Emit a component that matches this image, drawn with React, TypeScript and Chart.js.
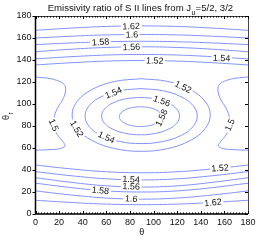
import { useEffect, useRef } from "react";
import { Chart, registerables } from "chart.js";

Chart.register(...registerables);

type P = [number, number];

// tick labels
const xTicks = [0, 20, 40, 60, 80, 100, 120, 140, 160, 180];
const yTicks = [0, 20, 40, 60, 80, 100, 120, 140, 160, 180];

const titleMain = "Emissivity ratio of S II lines from J";
const titleSub = "u";
const titleTail = "=5/2, 3/2";
const xTitle = "\u03b8";
const yTitle = "\u03b8";
const yTitleSub = "r";

// contour lines, [theta, theta_r]
const top162: P[] = [[0, 167], [30, 169], [60, 170.5], [90, 171], [120, 170.5], [150, 169], [180, 167]];
const top160: P[] = [[0, 160], [30, 161.6], [60, 162.8], [90, 163.2], [120, 162.8], [150, 161.6], [180, 160]];
const top158: P[] = [[0, 154], [30, 155.5], [60, 156.6], [90, 157], [120, 156.6], [150, 155.5], [180, 154]];
const top156: P[] = [[0, 147.5], [30, 149.8], [60, 151.4], [90, 152], [120, 151.4], [150, 149.8], [180, 147.5]];
const top154: P[] = [[0, 141], [30, 143], [60, 144.5], [90, 145], [120, 144.5], [150, 143], [180, 141]];
const top152: P[] = [[0, 135.5], [30, 137.5], [60, 139], [90, 139.5], [120, 139], [150, 137.5], [180, 135.5]];

const bot152: P[] = [[0, 44.5], [30, 41], [60, 38.4], [90, 37.5], [120, 38.4], [150, 41], [180, 44.5]];
const bot154: P[] = [[0, 38.5], [30, 34.8], [60, 32], [90, 31], [120, 32], [150, 34.8], [180, 38.5]];
const bot156: P[] = [[0, 33], [30, 28.8], [60, 25.6], [90, 24.5], [120, 25.6], [150, 28.8], [180, 33]];
const bot158: P[] = [[0, 28], [30, 24], [60, 21], [90, 20], [120, 21], [150, 24], [180, 28]];
const bot160: P[] = [[0, 21], [30, 17.3], [60, 14.5], [90, 13.5], [120, 14.5], [150, 17.3], [180, 21]];
const bot162: P[] = [[0, 12.5], [30, 10.5], [60, 9], [90, 8.5], [120, 9], [150, 10.5], [180, 12.5]];

const left150: P[] = [[0, 124.5], [10, 123.5], [18, 121.5], [24, 118], [25.5, 113], [23.5, 105], [18.5, 96], [15.5, 87], [15.5, 80], [18.5, 72], [23, 66], [25, 62], [21, 59.5], [12, 58.5], [0, 58]];
const right150: P[] = [[180, 124.5], [170, 123.5], [162, 121.5], [156, 118], [154.5, 113], [156.5, 105], [161.5, 96], [164.5, 87], [164.5, 80], [161.5, 72], [157, 66], [155, 62], [159, 59.5], [168, 58.5], [180, 58]];

const ring158: P[] = [[89, 97.5], [82.1, 96.8], [76.3, 94.9], [72.4, 91.9], [71, 88.5], [72.4, 85.1], [76.3, 82.1], [82.1, 80.2], [89, 79.5], [95.9, 80.2], [101.7, 82.1], [105.6, 85.1], [107, 88.5], [105.6, 91.9], [101.7, 94.9], [95.9, 96.8], [89, 97.5]];
const ring156: P[] = [[89, 106], [76.4, 104.7], [65.7, 101], [58.5, 95.5], [56, 89], [58.5, 82.5], [65.7, 77], [76.4, 73.3], [89, 72], [101.6, 73.3], [112.3, 77], [119.5, 82.5], [122, 89], [119.5, 95.5], [112.3, 101], [101.6, 104.7], [89, 106]];
const ring154: P[] = [[89.5, 114], [71.3, 112.1], [55.9, 106.7], [45.6, 98.6], [42, 89], [45.6, 79.4], [55.9, 71.3], [71.3, 65.9], [89.5, 64], [107.7, 65.9], [123.1, 71.3], [133.4, 79.4], [137, 89], [133.4, 98.6], [123.1, 106.7], [107.7, 112.1], [89.5, 114]];
const ring152: P[] = [[89.5, 123], [67.1, 120.5], [48.1, 113.3], [35.5, 102.6], [31, 90], [35.5, 77.4], [48.1, 66.7], [67.1, 59.5], [89.5, 57], [111.9, 59.5], [130.9, 66.7], [143.5, 77.4], [148, 90], [143.5, 102.6], [130.9, 113.3], [111.9, 120.5], [89.5, 123]];

const contourLines: P[][] = [
  top162, top160, top158, top156, top154, top152,
  bot152, bot154, bot156, bot158, bot160, bot162,
  left150, right150, ring158, ring156, ring154, ring152,
];

// contour labels: text, theta, theta_r, rotation (deg)
const labelTexts = ["1.62", "1.6", "1.58", "1.56", "1.52", "1.54", "1.54", "1.56", "1.58", "1.6", "1.62", "1.52", "1.5", "1.5", "1.52", "1.54", "1.56", "1.58", "1.54", "1.52"];
const labelTheta = [81, 81.6, 55, 81.3, 101, 157.6, 81, 81, 55, 81, 150.4, 156.4, 15.5, 164.5, 35, 66, 107, 106.8, 60, 125];
const labelThetaR = [170.8, 163.1, 156.4, 151.8, 139.4, 141.8, 31.6, 25.1, 21.4, 14, 10.5, 41.8, 81, 81, 77.5, 110.3, 102.8, 87.5, 69.8, 115.5];
const labelRot = [-2, -2, -4, -2, 1, 2, 3, 3, 6, 4, -5, -4, 66, -66, 59, -23, 20, -65, 25, 26];

const LINE = "rgb(130,146,255)";
const FONT = '"Liberation Sans", Arial, sans-serif';

const decor = {
  id: "decor",
  afterDatasetsDraw(chart: any) {
    const { ctx, scales } = chart;
    const x = scales.x;
    const y = scales.y;
    ctx.save();
    ctx.font = `9px ${FONT}`;
    ctx.textAlign = "center";
    ctx.textBaseline = "middle";
    for (let i = 0; i < labelTexts.length; i++) {
      const px = x.getPixelForValue(labelTheta[i]);
      const py = y.getPixelForValue(labelThetaR[i]);
      ctx.save();
      ctx.translate(px, py);
      ctx.rotate((labelRot[i] * Math.PI) / 180);
      const w = ctx.measureText(labelTexts[i]).width;
      ctx.fillStyle = "#fff";
      ctx.fillRect(-w / 2 - 1.5, -3.5, w + 3, 7);
      ctx.fillStyle = "#111";
      ctx.fillText(labelTexts[i], 0, 0.5);
      ctx.restore();
    }
    ctx.restore();
  },
  afterDraw(chart: any) {
    const { ctx, chartArea: a, scales } = chart;
    const x = scales.x;
    const y = scales.y;
    ctx.save();
    // box
    ctx.strokeStyle = "#000";
    ctx.lineWidth = 1.5;
    ctx.beginPath();
    ctx.moveTo(a.left, a.top);
    ctx.lineTo(a.left, a.bottom);
    ctx.lineTo(a.right, a.bottom);
    ctx.stroke();
    ctx.lineWidth = 1;
    ctx.strokeStyle = "#444";
    ctx.beginPath();
    ctx.moveTo(a.left, a.top + 0.5);
    ctx.lineTo(a.right + 0.5, a.top + 0.5);
    ctx.lineTo(a.right + 0.5, a.bottom);
    ctx.stroke();
    // ticks
    ctx.strokeStyle = "#000";
    ctx.lineWidth = 1;
    ctx.beginPath();
    for (const v of xTicks) {
      const px = Math.round(x.getPixelForValue(v)) + 0.5;
      ctx.moveTo(px, a.bottom);
      ctx.lineTo(px, a.bottom - 3);
      ctx.moveTo(px, a.top);
      ctx.lineTo(px, a.top + 3);
    }
    for (let v = 0; v <= 180; v += 2.5) {
      const px = Math.round(x.getPixelForValue(v)) + 0.5;
      ctx.moveTo(px, a.bottom);
      ctx.lineTo(px, a.bottom - 1.5);
      ctx.moveTo(px, a.top);
      ctx.lineTo(px, a.top + 1.5);
    }
    for (const v of yTicks) {
      const py = Math.round(y.getPixelForValue(v)) + 0.5;
      ctx.moveTo(a.left - 3, py);
      ctx.lineTo(a.left, py);
      ctx.moveTo(a.right, py);
      ctx.lineTo(a.right - 3, py);
    }
    ctx.stroke();
    // title
    ctx.fillStyle = "#111";
    ctx.textBaseline = "alphabetic";
    ctx.textAlign = "left";
    ctx.font = `9.6px ${FONT}`;
    let tx = 47.7;
    const ty = 10.8;
    ctx.fillText(titleMain, tx, ty);
    tx += ctx.measureText(titleMain).width;
    ctx.font = `7px ${FONT}`;
    ctx.fillText(titleSub, tx + 0.3, ty + 3.8);
    tx += ctx.measureText(titleSub).width + 0.6;
    ctx.font = `9.6px ${FONT}`;
    ctx.fillText(titleTail, tx, ty);
    // x title
    ctx.textAlign = "center";
    ctx.textBaseline = "middle";
    ctx.font = `9px ${FONT}`;
    ctx.fillText(xTitle, (a.left + a.right) / 2, 233);
    // y title
    ctx.save();
    ctx.translate(7, (a.top + a.bottom) / 2 + 2);
    ctx.rotate(-Math.PI / 2);
    ctx.textAlign = "left";
    ctx.font = `9px ${FONT}`;
    ctx.fillText(yTitle, -3, 0);
    const tw = ctx.measureText(yTitle).width;
    ctx.font = `6.5px ${FONT}`;
    ctx.fillText(yTitleSub, -3 + tw + 0.5, 4);
    ctx.restore();
    ctx.restore();
  },
};

export default function App() {
  const ref = useRef<HTMLCanvasElement | null>(null);
  useEffect(() => {
    document.body.style.margin = "0";
    const canvas = ref.current;
    if (!canvas) return;
    const tickFont = { family: FONT, size: 9 };
    const chart = new Chart(canvas, {
      type: "scatter",
      data: {
        datasets: contourLines.map((pts) => ({
          data: pts.map(([t, r]) => ({ x: t, y: r })),
          showLine: true,
          borderColor: LINE,
          borderWidth: 1,
          pointRadius: 0,
          tension: 0.4,
          fill: false,
        })),
      },
      options: {
        animation: false,
        responsive: false,
        maintainAspectRatio: false,
        events: [],
        layout: { padding: { top: 16, right: 26, left: 0, bottom: 0 } },
        plugins: {
          legend: { display: false },
          tooltip: { enabled: false },
          title: { display: false },
        },
        scales: {
          x: {
            type: "linear",
            min: 0,
            max: 180,
            afterBuildTicks: (s: any) => {
              s.ticks = xTicks.map((v) => ({ value: v }));
            },
            afterFit: (s: any) => {
              s.height = 28;
            },
            grid: { display: false, drawTicks: false },
            border: { display: false },
            ticks: { padding: 3, font: tickFont, color: "#111", autoSkip: false, maxRotation: 0 },
          },
          y: {
            type: "linear",
            min: 0,
            max: 180,
            afterBuildTicks: (s: any) => {
              s.ticks = yTicks.map((v) => ({ value: v }));
            },
            afterFit: (s: any) => {
              s.width = 35.5;
            },
            grid: { display: false, drawTicks: false },
            border: { display: false },
            ticks: { padding: 4, font: tickFont, color: "#111", autoSkip: false },
          },
        },
      },
      plugins: [decor],
    } as any);
    return () => chart.destroy();
  }, []);
  return <canvas ref={ref} width={274} height={242} style={{ display: "block" }} />;
}
